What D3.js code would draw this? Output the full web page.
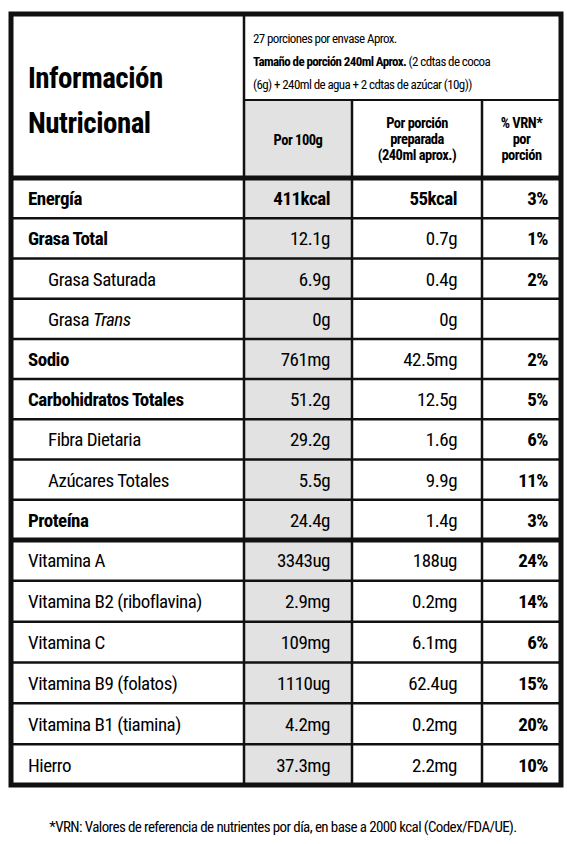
<!DOCTYPE html>
<html><head><meta charset="utf-8">
<script src="https://cdn.jsdelivr.net/npm/d3@7"></script>
<style>body{margin:0;background:#fff}</style>
</head><body>
<svg id="c" width="567" height="844"></svg>
<script>
var nutrients = ["Energía","Grasa Total","Grasa Saturada","Grasa Trans","Sodio","Carbohidratos Totales","Fibra Dietaria","Azúcares Totales","Proteína",
  "Vitamina A","Vitamina B2 (riboflavina)","Vitamina C","Vitamina B9 (folatos)","Vitamina B1 (tiamina)","Hierro"];
var per100 = ["411kcal","12.1g","6.9g","0g","761mg","51.2g","29.2g","5.5g","24.4g","3343ug","2.9mg","109mg","1110ug","4.2mg","37.3mg"];
var perPortion = ["55kcal","0.7g","0.4g","0g","42.5mg","12.5g","1.6g","9.9g","1.4g","188ug","0.2mg","6.1mg","62.4ug","0.2mg","2.2mg"];
var vrn = ["3%","1%","2%","","2%","5%","6%","11%","3%","24%","14%","6%","15%","20%","10%"];
var level = ["main","main","sub","sub","main","main","sub","sub","main","vit","vit","vit","vit","vit","vit"];

var F = "'Liberation Sans Narrow','Roboto Condensed','Arial Narrow',Roboto,sans-serif";
var svg = d3.select("#c");
var L = 11, R = 561, c1 = 244, c2 = 352, c3 = 482;
var tabTop = 14, hsplit = 100, hbot = 178, mid = 540, bot = 785;

var y1 = d3.scaleBand().domain(d3.range(9)).range([hbot, mid]);
var y2 = d3.scaleBand().domain(d3.range(9, 15)).range([mid, bot]);
function y(i){ return i < 9 ? y1(i) : y2(i); }
function bh(i){ return i < 9 ? y1.bandwidth() : y2.bandwidth(); }

// gray column
svg.append("rect").attr("x", c1).attr("y", hsplit).attr("width", c2 - c1).attr("height", bot - hsplit).attr("fill", "#e2e2e2");

// header text
svg.append("text").attr("x", 28).attr("y", 88).attr("font-family", F).attr("font-weight", "bold").attr("font-size", 29).attr("letter-spacing", -0.5).text("Información");
svg.append("text").attr("x", 28).attr("y", 133).attr("font-family", F).attr("font-weight", "bold").attr("font-size", 29).attr("letter-spacing", -0.5).text("Nutricional");
var ht = svg.append("g").attr("font-family", F).attr("font-size", 13).attr("letter-spacing", -0.6);
ht.append("text").attr("x", 253).attr("y", 43).text("27 porciones por envase Aprox.");
var t2 = ht.append("text").attr("x", 253).attr("y", 66);
t2.append("tspan").attr("font-weight", "bold").text("Tamaño de porción 240ml Aprox.");
t2.append("tspan").text(" (2 cdtas de cocoa");
ht.append("text").attr("x", 253).attr("y", 89).text("(6g) + 240ml de agua + 2 cdtas de azúcar (10g))");

var hd = svg.append("g").attr("font-family", F).attr("font-weight", "bold").attr("font-size", 14.5).attr("letter-spacing", -0.5).attr("text-anchor", "middle");
hd.append("text").attr("x", (c1 + c2) / 2).attr("y", 145).text("Por 100g");
[["Por porción", 128], ["preparada", 144], ["(240ml aprox.)", 160]].forEach(function(d){
  hd.append("text").attr("x", (c2 + c3) / 2).attr("y", d[1]).text(d[0]);
});
[["% VRN*", 128], ["por", 144], ["porción", 160]].forEach(function(d){
  hd.append("text").attr("x", (c3 + R) / 2).attr("y", d[1]).text(d[0]);
});

// rows
var rows = svg.append("g").selectAll("g").data(nutrients).enter().append("g")
  .attr("font-family", F).attr("font-size", 19).attr("letter-spacing", -0.5);
rows.each(function(d, i){
  var g = d3.select(this), yy = y(i) + bh(i) / 2 + 7;
  var lab = g.append("text").attr("x", level[i] == "sub" ? 48 : 28).attr("y", yy)
    .attr("font-weight", level[i] == "main" ? "bold" : "normal");
  if (d == "Grasa Trans") {
    lab.append("tspan").text("Grasa ");
    lab.append("tspan").attr("font-style", "italic").text("Trans");
  } else lab.text(d);
  var b = i == 0 ? "bold" : "normal";
  g.append("text").attr("x", c2 - 22).attr("y", yy).attr("text-anchor", "end").attr("font-weight", b).text(per100[i]);
  g.append("text").attr("x", c3 - 25).attr("y", yy).attr("text-anchor", "end").attr("font-weight", b).text(perPortion[i]);
  g.append("text").attr("x", R - 13).attr("y", yy).attr("text-anchor", "end").attr("font-weight", "bold").text(vrn[i]);
});

// grid lines
var hl = d3.range(1, 15).filter(function(i){ return i != 9; }).map(y);
svg.append("g").selectAll("line").data(hl).enter().append("line")
  .attr("x1", L).attr("x2", R).attr("y1", function(d){ return d; }).attr("y2", function(d){ return d; })
  .attr("stroke", "#111").attr("stroke-width", 2.5);
svg.append("line").attr("x1", c1).attr("x2", R).attr("y1", hsplit).attr("y2", hsplit).attr("stroke", "#111").attr("stroke-width", 2);
[hbot, mid].forEach(function(v){
  svg.append("line").attr("x1", L).attr("x2", R).attr("y1", v).attr("y2", v).attr("stroke", "#111").attr("stroke-width", 5);
});
svg.append("line").attr("x1", c1).attr("x2", c1).attr("y1", tabTop).attr("y2", bot).attr("stroke", "#111").attr("stroke-width", 2.5);
[c2, c3].forEach(function(v){
  svg.append("line").attr("x1", v).attr("x2", v).attr("y1", hsplit).attr("y2", bot).attr("stroke", "#111").attr("stroke-width", 2.5);
});
svg.append("rect").attr("x", L).attr("y", tabTop).attr("width", R - L).attr("height", bot - tabTop)
  .attr("fill", "none").attr("stroke", "#111").attr("stroke-width", 5);

svg.append("text").attr("x", 283).attr("y", 832).attr("text-anchor", "middle").attr("font-family", F).attr("font-size", 15).attr("letter-spacing", -0.6)
  .text("*VRN: Valores de referencia de nutrientes por día, en base a 2000 kcal (Codex/FDA/UE).");
</script>
</body></html>
